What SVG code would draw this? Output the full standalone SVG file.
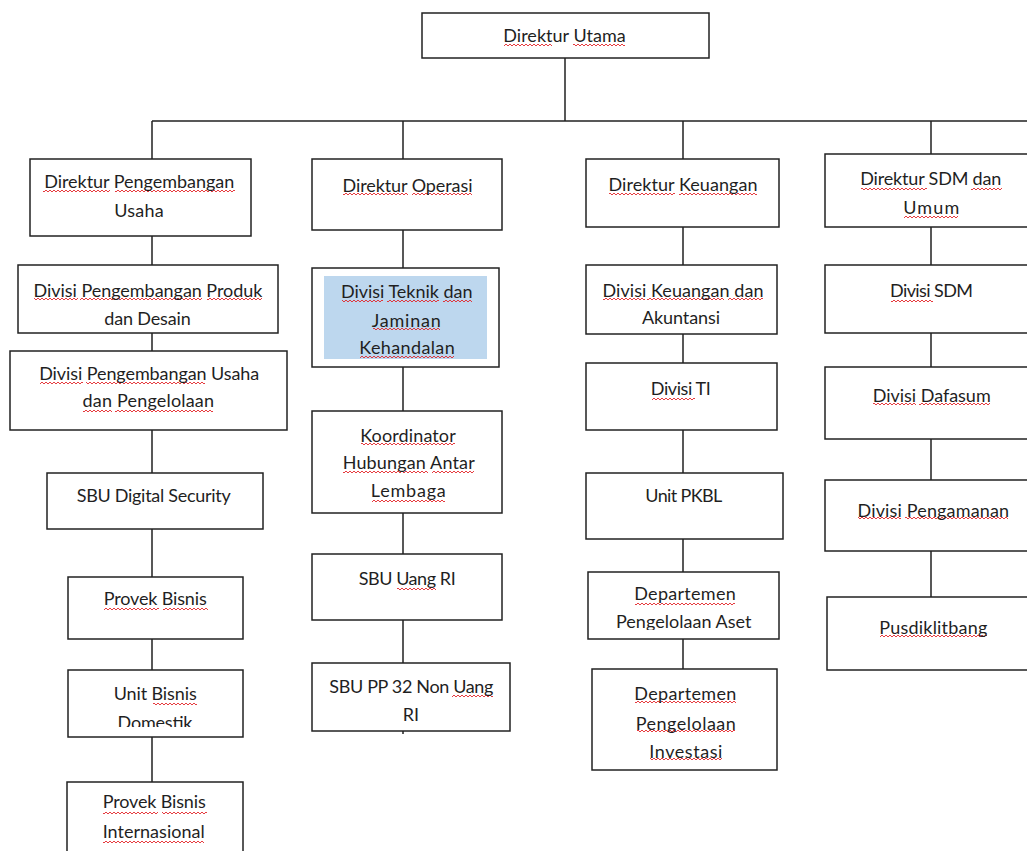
<svg xmlns="http://www.w3.org/2000/svg" width="1027" height="851" viewBox="0 0 1027 851">
  <style>
    .box { fill: #ffffff; stroke: #222222; stroke-width: 1.5; }
    .hl { fill: #bdd7ee; stroke: none; }
    .lbl { font-family: Lato, "Liberation Sans", sans-serif; font-size: 18px; fill: #1f1f1f; text-anchor: middle; }
    .sq rect { fill: url(#wave); height: 4px; }
    .wire { fill: none; stroke: #222222; stroke-width: 1.5; }
  </style>
  <defs>
    <!-- red spell-check squiggle, one period per 4px tile -->
    <pattern id="wave" width="4" height="4" patternUnits="userSpaceOnUse">
      <path d="M-1 4L0 3L2 1L4 3L5 4" fill="none" stroke="#e3262a" stroke-width="0.9"/>
    </pattern>
    <clipPath id="clipUbd"><rect x="68" y="670" width="175" height="57"/></clipPath>
    <clipPath id="clipDpa"><rect x="588" y="572" width="191" height="58"/></clipPath>
  </defs>
  <rect width="1027" height="851" fill="#ffffff"/>

  <!-- connectors -->
  <g id="connectors" class="wire">
    <path d="M565 58V121 M152 121H1027 M152 121V159 M403 121V159 M683 121V159 M931 121V154"/>
    <path d="M152 236V265 M152 333V351 M152 430V473 M152 529V577 M152 639V670 M152 737V782"/>
    <path d="M403 230V268 M403 367V411 M403 513V554 M403 620V663 M403 731V734"/>
    <path d="M683 227V265 M683 334V363 M683 430V473 M683 539V572 M683 639V669"/>
    <path d="M931 227V265 M931 333V367 M931 439V480 M931 551V597"/>
  </g>

  <!-- top -->
  <g id="n-direktur-utama">
    <rect class="box" x="422" y="13" width="287" height="45"/>
    <g class="sq" transform="translate(0 43)"><rect x="504" width="48"/><rect x="573" width="52"/></g>
    <text class="lbl" x="564.5" y="42" textLength="122.5"><tspan>Direktur</tspan> <tspan>Utama</tspan></text>
  </g>

  <!-- column 1 -->
  <g id="n-dir-pengembangan-usaha">
    <rect class="box" x="30" y="159" width="221" height="77"/>
    <g class="sq" transform="translate(0 189)"><rect x="43" width="67"/><rect x="115" width="120"/></g>
    <text class="lbl" x="139.2" y="188" textLength="190"><tspan>Direktur</tspan> <tspan>Pengembangan</tspan></text>
    <text class="lbl" x="139" y="217" textLength="49.5"><tspan>Usaha</tspan></text>
  </g>
  <g id="n-div-produk-desain">
    <rect class="box" x="18" y="265" width="260" height="68"/>
    <g class="sq" transform="translate(0 297)"><rect x="34" width="44"/><rect x="80" width="122"/><rect x="207" width="55"/></g>
    <text class="lbl" x="148" y="297" textLength="229"><tspan>Divisi</tspan> <tspan>Pengembangan</tspan> <tspan>Produk</tspan></text>
    <text class="lbl" x="147.5" y="325" textLength="86.5"><tspan>dan</tspan> <tspan>Desain</tspan></text>
  </g>
  <g id="n-div-usaha-pengelolaan">
    <rect class="box" x="10" y="351" width="277" height="79"/>
    <g class="sq" transform="translate(0 381)"><rect x="40" width="43"/><rect x="86" width="119"/></g>
    <text class="lbl" x="149.2" y="380" textLength="220"><tspan>Divisi</tspan> <tspan>Pengembangan</tspan> <tspan>Usaha</tspan></text>
    <g class="sq" transform="translate(0 409)"><rect x="83" width="29"/><rect x="115" width="98"/></g>
    <text class="lbl" x="148.3" y="407" textLength="131.5"><tspan>dan</tspan> <tspan>Pengelolaan</tspan></text>
  </g>
  <g id="n-sbu-digital-security">
    <rect class="box" x="47" y="473" width="216" height="56"/>
    <text class="lbl" x="153.7" y="502" textLength="154"><tspan>SBU</tspan> <tspan>Digital</tspan> <tspan>Security</tspan></text>
  </g>
  <g id="n-provek-bisnis">
    <rect class="box" x="68" y="577" width="175" height="62"/>
    <g class="sq" transform="translate(0 607)"><rect x="104" width="55"/><rect x="163" width="45"/></g>
    <text class="lbl" x="155.2" y="605" textLength="103"><tspan>Provek</tspan> <tspan>Bisnis</tspan></text>
  </g>
  <g id="n-unit-bisnis-domestik">
    <rect class="box" x="68" y="670" width="175" height="67"/>
    <g clip-path="url(#clipUbd)">
      <g class="sq" transform="translate(0 702)"><rect x="153" width="44"/></g>
      <text class="lbl" x="155.2" y="700" textLength="83"><tspan>Unit</tspan> <tspan>Bisnis</tspan></text>
      <text class="lbl" x="155" y="729" textLength="75"><tspan>Domestik</tspan></text>
    </g>
  </g>
  <g id="n-provek-bisnis-internasional">
    <rect class="box" x="67" y="782" width="176" height="80"/>
    <g class="sq" transform="translate(0 811)"><rect x="103" width="55"/><rect x="162" width="45"/></g>
    <text class="lbl" x="154.2" y="808" textLength="103"><tspan>Provek</tspan> <tspan>Bisnis</tspan></text>
    <g class="sq" transform="translate(0 840)"><rect x="103" width="101"/></g>
    <text class="lbl" x="153.7" y="838" textLength="102"><tspan>Internasional</tspan></text>
  </g>

  <!-- column 2 -->
  <g id="n-dir-operasi">
    <rect class="box" x="312" y="159" width="190" height="71"/>
    <g class="sq" transform="translate(0 192)"><rect x="343" width="65"/><rect x="412" width="60"/></g>
    <text class="lbl" x="407.5" y="192" textLength="130"><tspan>Direktur</tspan> <tspan>Operasi</tspan></text>
  </g>
  <g id="n-div-teknik">
    <rect class="box" x="312" y="268" width="187" height="99"/>
    <rect class="hl" x="324" y="276" width="163" height="83"/>
    <g class="sq" transform="translate(0 299)"><rect x="342" width="41"/><rect x="387" width="52"/><rect x="443" width="29"/></g>
    <text class="lbl" x="406.7" y="298" textLength="131.5"><tspan>Divisi</tspan> <tspan>Teknik</tspan> <tspan>dan</tspan></text>
    <g class="sq" transform="translate(0 327)"><rect x="373" width="67"/></g>
    <text class="lbl" x="406.3" y="327" textLength="69"><tspan>Jaminan</tspan></text>
    <g class="sq" transform="translate(0 355)"><rect x="360" width="94"/></g>
    <text class="lbl" x="407" y="354" textLength="95.5"><tspan>Kehandalan</tspan></text>
  </g>
  <g id="n-koordinator">
    <rect class="box" x="312" y="411" width="190" height="102"/>
    <g class="sq" transform="translate(0 442)"><rect x="361" width="94"/></g>
    <text class="lbl" x="408" y="442" textLength="95.5"><tspan>Koordinator</tspan></text>
    <g class="sq" transform="translate(0 470)"><rect x="343" width="85"/><rect x="432" width="42"/></g>
    <text class="lbl" x="408.7" y="469" textLength="132"><tspan>Hubungan</tspan> <tspan>Antar</tspan></text>
    <g class="sq" transform="translate(0 499)"><rect x="372" width="73"/></g>
    <text class="lbl" x="408.3" y="497" textLength="75"><tspan>Lembaga</tspan></text>
  </g>
  <g id="n-sbu-uang-ri">
    <rect class="box" x="312" y="554" width="190" height="66"/>
    <g class="sq" transform="translate(0 587)"><rect x="397" width="39"/></g>
    <text class="lbl" x="407.2" y="585" textLength="97"><tspan>SBU</tspan> <tspan>Uang</tspan> <tspan>RI</tspan></text>
  </g>
  <g id="n-sbu-pp32">
    <rect class="box" x="312" y="663" width="198" height="68"/>
    <g class="sq" transform="translate(0 694)"><rect x="452" width="41"/></g>
    <text class="lbl" x="411.3" y="693" textLength="164"><tspan>SBU</tspan> <tspan>PP</tspan> <tspan>32</tspan> <tspan>Non</tspan> <tspan>Uang</tspan></text>
    <text class="lbl" x="410.8" y="721"><tspan>RI</tspan></text>
  </g>

  <!-- column 3 -->
  <g id="n-dir-keuangan">
    <rect class="box" x="586" y="159" width="193" height="68"/>
    <g class="sq" transform="translate(0 192)"><rect x="609" width="66"/><rect x="679" width="78"/></g>
    <text class="lbl" x="683" y="191" textLength="149"><tspan>Direktur</tspan> <tspan>Keuangan</tspan></text>
  </g>
  <g id="n-div-keuangan-akuntansi">
    <rect class="box" x="586" y="265" width="191" height="69"/>
    <g class="sq" transform="translate(0 297)"><rect x="603" width="42"/><rect x="647" width="77"/><rect x="728" width="35"/></g>
    <text class="lbl" x="683" y="297" textLength="161"><tspan>Divisi</tspan> <tspan>Keuangan</tspan> <tspan>dan</tspan></text>
    <text class="lbl" x="681" y="324" textLength="78"><tspan>Akuntansi</tspan></text>
  </g>
  <g id="n-div-ti">
    <rect class="box" x="586" y="363" width="191" height="67"/>
    <g class="sq" transform="translate(0 397)"><rect x="652" width="43"/></g>
    <text class="lbl" x="680.8" y="395" textLength="60"><tspan>Divisi</tspan> <tspan>TI</tspan></text>
  </g>
  <g id="n-unit-pkbl">
    <rect class="box" x="586" y="473" width="197" height="66"/>
    <text class="lbl" x="683.8" y="502" textLength="77"><tspan>Unit</tspan> <tspan>PKBL</tspan></text>
  </g>
  <g id="n-dept-aset">
    <rect class="box" x="588" y="572" width="191" height="67"/>
    <g clip-path="url(#clipDpa)">
      <g class="sq" transform="translate(0 602)"><rect x="635" width="100"/></g>
      <text class="lbl" x="685" y="600" textLength="101.5"><tspan>Departemen</tspan></text>
      <text class="lbl" x="683.7" y="628" textLength="135.5"><tspan>Pengelolaan</tspan> <tspan>Aset</tspan></text>
    </g>
  </g>
  <g id="n-dept-investasi">
    <rect class="box" x="592" y="669" width="185" height="101"/>
    <g class="sq" transform="translate(0 700)"><rect x="635" width="101"/></g>
    <text class="lbl" x="685.3" y="700" textLength="102"><tspan>Departemen</tspan></text>
    <g class="sq" transform="translate(0 729)"><rect x="637" width="98"/></g>
    <text class="lbl" x="685.8" y="730" textLength="100"><tspan>Pengelolaan</tspan></text>
    <g class="sq" transform="translate(0 757)"><rect x="650" width="72"/></g>
    <text class="lbl" x="685.8" y="758" textLength="73"><tspan>Investasi</tspan></text>
  </g>

  <!-- column 4 -->
  <g id="n-dir-sdm-umum">
    <rect class="box" x="825" y="154" width="215" height="73"/>
    <g class="sq" transform="translate(0 187)"><rect x="861" width="66"/><rect x="971" width="31"/></g>
    <text class="lbl" x="930.8" y="185" textLength="141"><tspan>Direktur</tspan> <tspan>SDM</tspan> <tspan>dan</tspan></text>
    <g class="sq" transform="translate(0 215)"><rect x="904" width="54"/></g>
    <text class="lbl" x="931.2" y="214" textLength="56"><tspan>Umum</tspan></text>
  </g>
  <g id="n-div-sdm">
    <rect class="box" x="825" y="265" width="215" height="68"/>
    <g class="sq" transform="translate(0 299)"><rect x="891" width="42"/></g>
    <text class="lbl" x="931.5" y="297" textLength="83"><tspan>Divisi</tspan> <tspan>SDM</tspan></text>
  </g>
  <g id="n-div-dafasum">
    <rect class="box" x="825" y="367" width="215" height="72"/>
    <g class="sq" transform="translate(0 402)"><rect x="873" width="43"/><rect x="919" width="71"/></g>
    <text class="lbl" x="931.7" y="402" textLength="118"><tspan>Divisi</tspan> <tspan>Dafasum</tspan></text>
  </g>
  <g id="n-div-pengamanan">
    <rect class="box" x="825" y="480" width="215" height="71"/>
    <g class="sq" transform="translate(0 516)"><rect x="858" width="43"/><rect x="905" width="103"/></g>
    <text class="lbl" x="933.3" y="517" textLength="151.5"><tspan>Divisi</tspan> <tspan>Pengamanan</tspan></text>
  </g>
  <g id="n-pusdiklitbang">
    <rect class="box" x="827" y="597" width="215" height="73"/>
    <g class="sq" transform="translate(0 634)"><rect x="880" width="107"/></g>
    <text class="lbl" x="933.3" y="634" textLength="108"><tspan>Pusdiklitbang</tspan></text>
  </g>
</svg>
